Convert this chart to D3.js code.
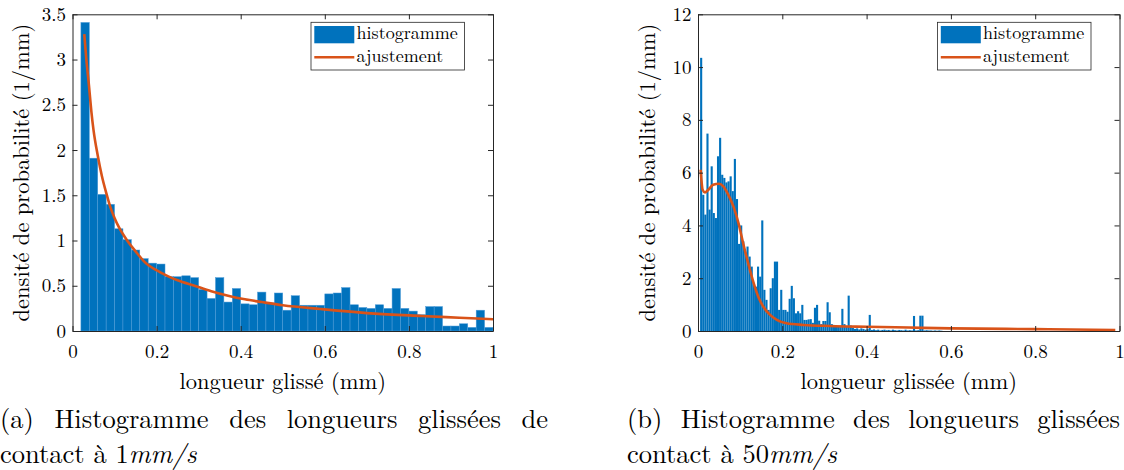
<!DOCTYPE html>
<html>
<head>
<meta charset="utf-8">
<script src="https://cdn.jsdelivr.net/npm/d3@7"></script>
<style>
body { margin: 0; background: #fff; }
</style>
</head>
<body>
<svg id="vis" width="1124" height="470"></svg>
<script>
// ---- panel (a) : 1 mm/s, histogram bins of 0.02 mm starting at 0.02
var binStartA = 0.02, binWidthA = 0.02;
var histA = [3.41, 1.91, 1.51, 1.40, 1.13, 1.01, 0.895, 0.80, 0.75, 0.74,
             0.60, 0.60, 0.61, 0.59, 0.46, 0.36, 0.59, 0.32, 0.47, 0.30,
             0.29, 0.43, 0.31, 0.42, 0.23, 0.39, 0.285, 0.285, 0.285, 0.41,
             0.42, 0.48, 0.29, 0.26, 0.25, 0.29, 0.25, 0.47, 0.25, 0.22,
             0.18, 0.27, 0.27, 0.055, 0.055, 0.08, 0.04, 0.23, 0.04];
var fitAx = [0.028, 0.033, 0.039, 0.045, 0.05, 0.06, 0.07, 0.08, 0.09, 0.10, 0.11, 0.13, 0.15, 0.17,
             0.21, 0.25, 0.29, 0.33, 0.37, 0.41, 0.45, 0.50, 0.59, 0.71, 0.83, 0.92, 1.0];
var fitAy = [3.28, 3.0, 2.72, 2.42, 2.22, 1.94, 1.71, 1.53, 1.37, 1.25, 1.15, 1.0, 0.88, 0.77,
             0.645, 0.56, 0.50, 0.44, 0.39, 0.35, 0.32, 0.285, 0.243, 0.195, 0.166, 0.147, 0.13];
var yTicksA = [0, 0.5, 1, 1.5, 2, 2.5, 3, 3.5];

// ---- panel (b) : 50 mm/s, histogram bins of 0.005 mm starting at 0.005
var binStartB = 0.005, binWidthB = 0.005;
var histB = [10.35, 5.16, 4.41, 7.48, 4.6, 6.24, 4.47, 4.28, 6.62, 7.32,
             5.92, 5.8, 5.63, 5.67, 5.86, 5.3, 6.52, 5.0, 3.3, 4.0,
             3.4, 3.0, 3.2, 2.82, 2.44, 1.75, 1.68, 2.44, 2.06, 4.19,
             1.56, 1.18, 0.8, 1.62, 2.0, 2.63, 2.63, 0.8, 1.56, 0.8,
             0.8, 0.73, 1.22, 1.71, 1.24, 0.67, 0.75, 0.67, 0.99, 0.42,
             0.42, 0.44, 0.45, 0.31, 0.88, 0.99, 0.39, 0.26, 0.38, 0.38,
             1.09, 0.71, 0.26, 0.23, 0.17, 0.17, 0.15, 0.84, 0.26, 0.15,
             1.34, 0.21, 0.12, 0.08, 0.1, 0.06, 0.1, 0.08, 0.05, 0.07,
             0.61, 0.04, 0.06, 0.03, 0.05, 0.02, 0.04, 0.05, 0.03, 0.04,
             0.02, 0.05, 0.03, 0.02, 0.04, 0.03, 0.02, 0.05, 0.02, 0.03,
             0.02, 0.57, 0.02, 0.03, 0.58, 0.58, 0.02, 0.03, 0.02, 0.02,
             0.01, 0.02, 0.01, 0.02, 0.01];
var fitBx = [0.0063, 0.011, 0.0166, 0.0245, 0.036, 0.05, 0.06, 0.072, 0.084, 0.096, 0.107, 0.119,
             0.131, 0.143, 0.155, 0.171, 0.187, 0.21, 0.25, 0.313, 0.4, 0.5, 0.6, 0.8, 0.99];
var fitBy = [6.11, 5.35, 5.25, 5.35, 5.54, 5.58, 5.48, 5.16, 4.72, 4.09, 3.33, 2.57,
             1.87, 1.30, 0.92, 0.61, 0.42, 0.29, 0.23, 0.19, 0.16, 0.13, 0.10, 0.07, 0.04];
var yTicksB = [0, 2, 4, 6, 8, 10, 12];

var xTicks = [0, 0.2, 0.4, 0.6, 0.8, 1];
var legendLabels = ["histogramme", "ajustement"];

var blue = "#0072bd", orange = "#d95319", axisColor = "#262626";
var plotTop = 14.3, plotBottom = 331, tickLen = 5;

var svg = d3.select("#vis");

// LaTeX-like font (Latin Modern is installed)
function font(t, size) {
    return t.style("font-family", "'Latin Modern Roman'")
            .style("font-size", size + "px")
            .attr("fill", "#000");
}

function panel(o) {
    var x = d3.scaleLinear().domain([0, 1]).range([o.left, o.right]);
    var y = d3.scaleLinear().domain([0, o.ymax]).range([plotBottom, plotTop]);
    var g = svg.append("g");

    var bars = o.hist.map(function(v, i) {
        return { x0: o.start + i * o.width, x1: o.start + (i + 1) * o.width, v: v };
    });
    g.selectAll(".bar")
     .data(bars)
     .enter()
     .append("rect")
     .attr("class", "bar")
     .attr("x", function(d) { return x(d.x0); })
     .attr("width", function(d) { return x(d.x1) - x(d.x0); })
     .attr("y", function(d) { return y(d.v); })
     .attr("height", function(d) { return y(0) - y(d.v); })
     .attr("fill", blue)
     .attr("stroke", o.edge > 0 ? "#4f9cd8" : "none")
     .attr("stroke-width", o.edge);

    var line = d3.line()
                 .x(function(d) { return x(d[0]); })
                 .y(function(d) { return y(d[1]); })
                 .curve(d3.curveMonotoneX);
    g.append("path")
     .datum(d3.zip(o.fitX, o.fitY))
     .attr("d", line)
     .attr("fill", "none")
     .attr("stroke", orange)
     .attr("stroke-width", 2.6);

    // box with inward ticks on all four sides
    var axes = [
        [d3.axisBottom(x).tickValues(xTicks).tickFormat(String).tickPadding(14), "translate(0," + plotBottom + ")"],
        [d3.axisTop(x).tickValues(xTicks).tickFormat(""), "translate(0," + plotTop + ")"],
        [d3.axisLeft(y).tickValues(o.yTicks).tickFormat(String).tickPadding(6.5), "translate(" + o.left + ",0)"],
        [d3.axisRight(y).tickValues(o.yTicks).tickFormat(""), "translate(" + o.right + ",0)"]
    ];
    axes.forEach(function(a) {
        var ax = g.append("g")
                  .attr("transform", a[1])
                  .call(a[0].tickSizeInner(-tickLen).tickSizeOuter(0));
        ax.attr("font-family", null).attr("font-size", null);
        ax.select(".domain").attr("stroke", axisColor).attr("stroke-width", 1);
        ax.selectAll(".tick line").attr("stroke", axisColor);
        font(ax.selectAll("text"), 19);
    });

    // axis titles
    font(g.append("text"), 22.5)
     .attr("x", (o.left + o.right) / 2)
     .attr("y", 389)
     .attr("text-anchor", "middle")
     .text(o.xlabel);
    font(g.append("text"), 22.5)
     .attr("transform", "translate(" + o.ylabelX + "," + ((plotTop + plotBottom) / 2) + ") rotate(-90)")
     .attr("text-anchor", "middle")
     .text("densité de probabilité (1/mm)");

    // legend
    var lw = 153.5, lh = 47.7;
    var lx = o.right - 28.5 - lw, ly = 22.3;
    var leg = g.append("g").attr("transform", "translate(" + lx + "," + ly + ")");
    leg.append("rect")
       .attr("width", lw).attr("height", lh)
       .attr("fill", "#fff").attr("stroke", axisColor).attr("stroke-width", 0.8);
    leg.append("rect")
       .attr("x", 3.3).attr("y", 3.7).attr("width", 40).attr("height", 17.3)
       .attr("fill", blue);
    leg.append("line")
       .attr("x1", 3.3).attr("x2", 43.3).attr("y1", 35).attr("y2", 35)
       .attr("stroke", orange).attr("stroke-width", 2.6);
    font(leg.selectAll(".ltxt")
       .data(legendLabels)
       .enter()
       .append("text")
       .attr("class", "ltxt"), 18)
       .attr("x", 45.6)
       .attr("y", function(d, i) { return i == 0 ? 17 : 39.7; })
       .text(String);
}

panel({ left: 72.5, right: 493, ymax: 3.5, hist: histA, start: binStartA, width: binWidthA, edge: 0.5,
        fitX: fitAx, fitY: fitAy, yTicks: yTicksA, xlabel: "longueur glissé (mm)", ylabelX: 29 });
panel({ left: 698, right: 1119.5, ymax: 12, hist: histB, start: binStartB, width: binWidthB, edge: 0,
        fitX: fitBx, fitY: fitBy, yTicks: yTicksB, xlabel: "longueur glissée (mm)", ylabelX: 655 });

/***********
 CAPTIONS
***********/
var captionWords = [
    ["(a)", "Histogramme", "des", "longueurs", "glissées", "de"],
    ["(b)", "Histogramme", "des", "longueurs", "glissées"]
];
var captionSpeed = ["1", "50"];
var captionLeft = [0, 627], captionRight = [548, 1120];

captionWords.forEach(function(words, c) {
    // first line is justified between the two edges
    var texts = words.map(function(w) {
        return font(svg.append("text").attr("y", 428), 26.5).text(w);
    });
    var widths = texts.map(function(t) { return t.node().getComputedTextLength(); });
    var gap = (captionRight[c] - captionLeft[c] - d3.sum(widths)) / (words.length - 1);
    var pos = captionLeft[c];
    texts.forEach(function(t, i) {
        t.attr("x", pos);
        pos += widths[i] + gap;
    });
    // second line
    var l2 = font(svg.append("text").attr("x", captionLeft[c]).attr("y", 463), 26.5);
    l2.append("tspan").text("contact à " + captionSpeed[c]);
    l2.append("tspan").style("font-style", "italic").text("mm/s");
});
</script>
</body>
</html>
